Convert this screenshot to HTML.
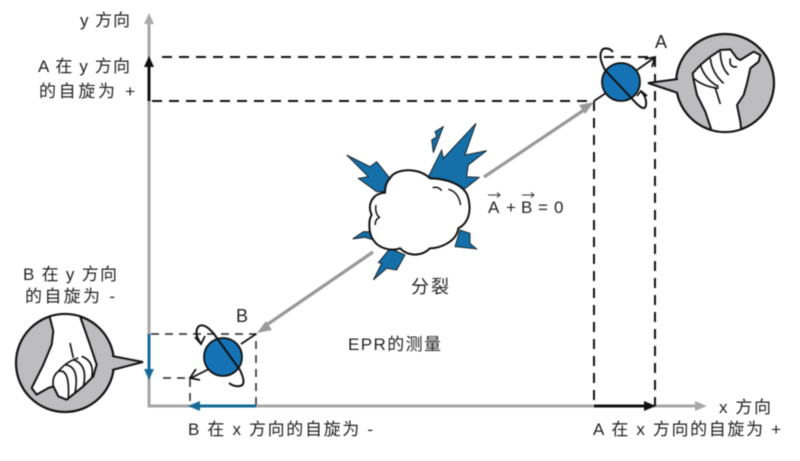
<!DOCTYPE html>
<html><head><meta charset="utf-8"><style>
html,body{margin:0;padding:0;background:#fff;width:800px;height:461px;overflow:hidden}
svg{display:block;filter:blur(.4px)}
text{font-family:"Liberation Sans","Noto Sans CJK SC",sans-serif;font-size:17px;fill:#222}
</style></head><body>
<svg width="800" height="461" viewBox="0 0 800 461" xmlns="http://www.w3.org/2000/svg">
<defs><clipPath id="ca"><circle cx="725" cy="83" r="48"/></clipPath><clipPath id="cb"><circle cx="65" cy="363" r="48"/></clipPath></defs>
<!-- axes -->
<g stroke="#a6a6a6" stroke-width="3" fill="none"><path d="M149 22V406H698"/></g>
<path d="M149 13l-5 11h10zM707 406l-12-5v10z" fill="#a9a9a9"/>
<!-- dashed -->
<g stroke="#111" stroke-width="2" fill="none" stroke-dasharray="10 7">
<path d="M162 57H655V406"/><path d="M152 101H594V406"/>
</g>
<g stroke="#222" stroke-width="1.5" fill="none" stroke-dasharray="8 6">
<path d="M151 334H256V406"/><path d="M163 378H190V406"/>
</g>
<!-- projection arrows -->
<path d="M149 101V64" stroke="#111" stroke-width="3"/><path d="M149 56l-5 11h10z" fill="#111"/>
<path d="M594 406H645" stroke="#111" stroke-width="3"/><path d="M656 406l-12-5v10z" fill="#111"/>
<path d="M149 334V370" stroke="#156a96" stroke-width="3"/><path d="M149 380l-5-11h10z" fill="#156a96"/>
<path d="M256 406H198" stroke="#156a96" stroke-width="3"/><path d="M188 406l12-5v10z" fill="#156a96"/>
<!-- grey lines -->
<path d="M484 177L584 110M373 252L268 324" stroke="#999" stroke-width="3.2" fill="none"/>
<path d="M594 102l-15 3 6 9zM257 333l15-3-6-9z" fill="#999"/>
<!-- explosion -->
<g transform="translate(340 120) scale(.3333)">
<g fill="#156fa8" stroke="#111" stroke-width="2.500">
<path d="M20 105L90 140 110 125 150 175 135 215 110 215 55 175 85 170Z"/>
<path d="M408 10L375 105 440 92 385 135 380 170 418 172 370 210 265 170 305 90 310 115Z"/>
<path d="M310 20L280 98 275 60 290 50 285 35Z"/>
<path d="M360 330L390 340 390 370 410 387 345 380Z"/>
<path d="M38 357L70 335 100 335 100 360 75 352Z"/>
<path d="M100 480L125 430 115 428 150 385 195 405 170 450 140 445Z"/>
</g>
<path d="M150 175C165 145 235 140 270 175C310 175 375 190 385 235C395 275 385 310 355 325C350 365 300 385 270 385C245 410 205 410 180 385C155 395 115 385 100 360C85 340 85 300 95 285C80 250 100 220 135 218C135 200 140 185 150 175Z" fill="#fff" stroke="#111" stroke-width="6"/>
<path d="M278 203Q295 198 305 212M325 208Q355 215 362 255M108 255Q104 280 118 292 104 300 106 315" fill="none" stroke="#111" stroke-width="4.500"/>
</g>
<!-- particle A -->
<g fill="none" stroke="#111">
<path d="M594 101L606 93M637 70L654 58" stroke-width="1.800"/>
<path d="M645 59L655 57 652 67" stroke-width="1.800"/>
<circle cx="621" cy="82" r="19" fill="#1573b5" stroke-width="1.800"/>
<path d="M605 70L636 103Q645 112 646 105 647 98 641 91" stroke-width="2"/>
<path d="M637 96L641 91 647 96" stroke-width="1.800"/>
<path d="M605 70Q597 55 603 49 609 47 613 52" stroke-width="2"/>
</g>
<!-- particle B -->
<g fill="none" stroke="#111">
<path d="M241 344L256 334M209 369L191 378" stroke-width="1.800"/>
<path d="M196 369L190 378 200 380" stroke-width="1.800"/>
<circle cx="223" cy="357" r="19" fill="#1573b5" stroke-width="1.800"/>
<path d="M214 334L240 370Q247 385 240 386 234 387 229 383" stroke-width="2"/>
<path d="M214 334Q205 323 199 326 193 332 201 344" stroke-width="2"/>
<path d="M195 337L201 344 205 336" stroke-width="1.800"/>
</g>
<!-- bubble A -->
<circle cx="725" cy="83" r="49" fill="#bdbdbf" stroke="#111" stroke-width="2.200"/>
<path d="M678 79L648 83 678 93" fill="#bdbdbf" stroke="#111" stroke-width="2"/>
<path d="M677 80L680 80 680 92 677 92Z" fill="#bdbdbf"/>
<g clip-path="url(#ca)"><g transform="translate(672 30) scale(.3333)">
<path d="M125 320L100 245 75 195 65 150 62 130 85 105 115 80 145 60 175 58 195 85 205 90 245 65 265 75 260 95 235 115 225 160 215 195 195 225 205 275 210 320Z" fill="#fff" stroke="#111" stroke-width="6" stroke-linejoin="round"/>
<path d="M65 145Q95 170 140 175M85 105Q100 150 140 170M115 85Q120 130 155 160M145 65Q145 110 170 135M175 85Q170 115 195 110M130 175L145 222" fill="none" stroke="#111" stroke-width="5"/>
</g></g>
<!-- bubble B -->
<circle cx="65" cy="363" r="49" fill="#bdbdbf" stroke="#111" stroke-width="2.200"/>
<path d="M112 356L143 362 112 370" fill="#bdbdbf" stroke="#111" stroke-width="2"/>
<path d="M110 357L113 357 113 369 110 369Z" fill="#bdbdbf"/>
<g clip-path="url(#cb)"><g transform="translate(10 308) scale(.3333)">
<path d="M115 10L130 70 125 110 100 170 65 240 80 260 115 240 130 235 145 265 170 275 220 235 250 205 260 170 240 110 205 10Z" fill="#fff" stroke="#111" stroke-width="6" stroke-linejoin="round"/>
<path d="M130 235Q125 205 145 190Q170 160 205 150M145 190Q180 180 175 270M165 170Q210 175 195 255M190 155Q235 170 220 235M215 145Q255 160 245 210M180 105L190 150" fill="none" stroke="#111" stroke-width="5"/>
</g></g>
<!-- text -->
<text x="80" y="26" textLength="50">y 方向</text>
<text x="38" y="72" textLength="92">A 在 y 方向</text>
<text x="39" y="97" textLength="96">的自旋为 +</text>
<text x="23" y="280" textLength="94">B 在 y 方向</text>
<text x="25" y="302" textLength="90">的自旋为 -</text>
<text x="236" y="322" style="font-size:18px">B</text>
<text x="655" y="48" style="font-size:18px">A</text>
<text x="488" y="213">A</text><text x="506" y="213">+</text><text x="521" y="213">B</text><text x="538" y="213">=</text><text x="554" y="213">0</text>
<path d="M488 195H500M497 192.500L500 195 497 197.500M522 195H534M531 192.500L534 195 531 197.500" stroke="#333" stroke-width="1" fill="none"/>
<text x="411" y="293" textLength="38" style="font-size:18px">分裂</text>
<text x="348" y="350" textLength="93">EPR的测量</text>
<text x="719" y="413" textLength="52">x 方向</text>
<text x="188" y="435" textLength="185">B 在 x 方向的自旋为 -</text>
<text x="593" y="435" textLength="188">A 在 x 方向的自旋为 +</text>
</svg>
</body></html>
